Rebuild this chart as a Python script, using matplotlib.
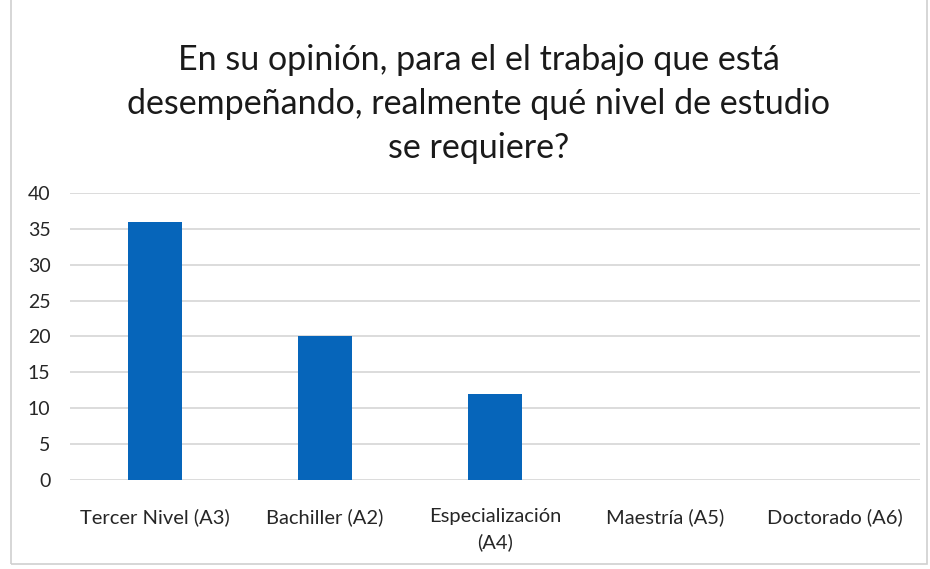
import matplotlib
matplotlib.use("Agg")
import matplotlib.pyplot as plt
from matplotlib.patches import Rectangle

# Respuestas por nivel de estudio requerido
categorias = ["Tercer Nivel (A3)", "Bachiller (A2)", "Especialización\n(A4)",
              "Maestría (A5)", "Doctorado (A6)"]
respuestas = [36, 20, 12, 0, 0]
ticks_y = [0, 5, 10, 15, 20, 25, 30, 35, 40]

titulo = ("En su opinión, para el el trabajo que está\n"
          "desempeñando, realmente qué nivel de estudio\n"
          "se requiere?")

plt.rcParams["font.family"] = ["Lato", "DejaVu Sans"]

fig = plt.figure(figsize=(9.3, 5.69), dpi=100)
ax = fig.add_axes([0.0753, 0.1564, 0.9137, 0.5046])

x = range(len(categorias))
ax.bar(x, respuestas, width=0.32, color="#0665BA", zorder=3)

ax.set_xlim(-0.5, len(categorias) - 0.5)
ax.set_ylim(0, 40)
ax.set_yticks(ticks_y)
ax.set_xticks(list(x))
ax.set_xticklabels(categorias, fontsize=14.5, color="#262626", linespacing=1.6)
ax.tick_params(axis="y", labelsize=14, colors="#262626", length=0, pad=14)
ax.tick_params(axis="x", length=0, pad=20)
ax.grid(axis="y", color="#d6d6d6", linewidth=1.2, zorder=0)
for s in ax.spines.values():
    s.set_visible(False)

fig.text(0.515, 0.922, titulo, ha="center", va="top", fontsize=24.5,
         color="#1a1a1a", linespacing=1.45)

# marco del gráfico
fig.patches.append(Rectangle((0.012, 0.008), 0.985, 1.2, transform=fig.transFigure,
                             fill=False, edgecolor="#d0d0d0", linewidth=1.2))

fig.savefig("out.png", dpi=100, facecolor="white")
